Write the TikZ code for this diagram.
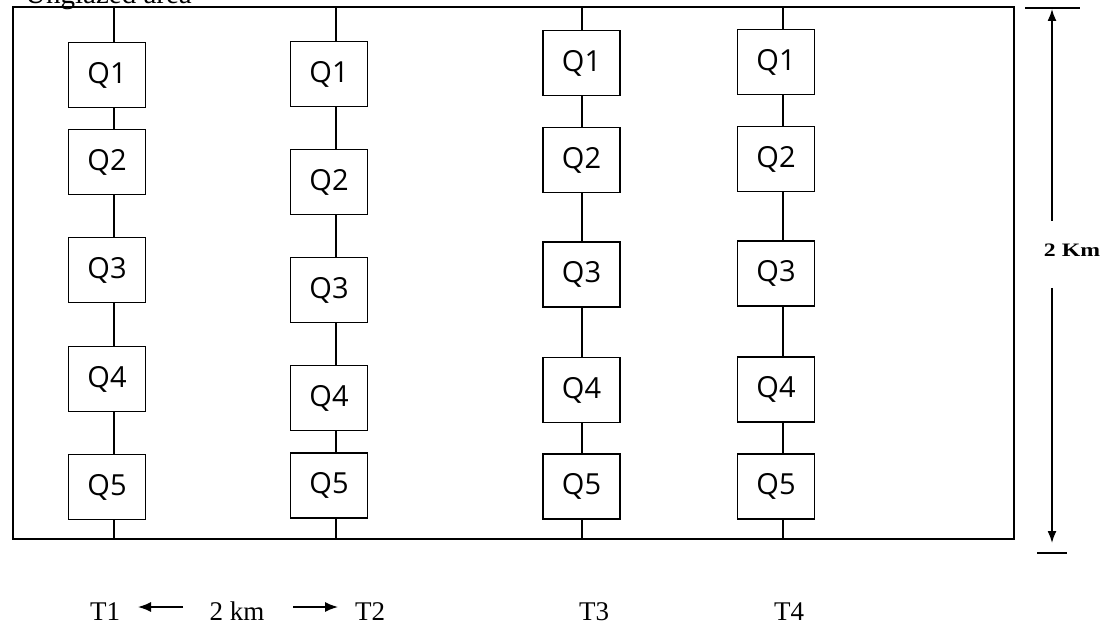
\documentclass[tikz,border=0pt]{standalone}
\usepackage{fontspec}
\usepackage{graphicx}
\setmainfont{Liberation Serif}
\newfontfamily\qfont{Open Sans}
\usetikzlibrary{arrows.meta}
\begin{document}
\begin{tikzpicture}[x=1pt,y=-1pt,
  qbox/.style={draw, line width=1.9pt, minimum width=77pt, minimum height=65pt, inner sep=0pt, font=\qfont\fontsize{29}{31}\selectfont},
  link/.style={line width=1.5pt},
  frame/.style={line width=2pt},
  lbl/.style={font=\fontsize{27}{30}\selectfont, anchor=base, inner sep=0pt},
  dimarrow/.style={line width=1.6pt, -{Latex[length=12pt,width=9pt]}}]
\useasboundingbox (0,0) rectangle (1112,628);
% title (cut at top, as in the reference)
\node[anchor=base west, inner sep=0pt, font=\fontsize{29}{31}\selectfont] (title) at (25,4) {Unglazed area};
% frame
\draw[frame] (13,7) rectangle (1014,539);
% columns
\foreach \c/\bx/\lx/\ya/\yb/\yc/\yd/\ye in {1/107/114/75/162/270/379/487, 2/329/336/74/182/290/398/485.5, 3/581.5/582/63/160/274.5/390/486.5, 4/776/783/62/159/273.5/389.5/486.5}{
  \coordinate (top\c) at (\lx,7);
  \coordinate (bot\c) at (\lx,539);
  \node[qbox] (t\c q1) at (\bx,\ya) {Q1};
  \node[qbox] (t\c q2) at (\bx,\yb) {Q2};
  \node[qbox] (t\c q3) at (\bx,\yc) {Q3};
  \node[qbox] (t\c q4) at (\bx,\yd) {Q4};
  \node[qbox] (t\c q5) at (\bx,\ye) {Q5};
  \draw[link] (top\c) -- (top\c |- t\c q1.north);
  \draw[link] (t\c q1.south -| top\c) -- (t\c q2.north -| top\c);
  \draw[link] (t\c q2.south -| top\c) -- (t\c q3.north -| top\c);
  \draw[link] (t\c q3.south -| top\c) -- (t\c q4.north -| top\c);
  \draw[link] (t\c q4.south -| top\c) -- (t\c q5.north -| top\c);
  \draw[link] (t\c q5.south -| top\c) -- (bot\c);
}
% right dimension
\coordinate (dtl) at (1025,8);
\coordinate (dtr) at (1080,8);
\coordinate (dbl) at (1037,553);
\coordinate (dbr) at (1067,553);
\draw[line width=1.6pt] (dtl) -- (dtr);
\draw[line width=1.6pt] (dbl) -- (dbr);
\node[inner sep=0pt, font=\bfseries\fontsize{19}{21}\selectfont] (dim) at (1072,250) {\scalebox{1.25}[1]{2 Km}};
\coordinate (dup) at (1052,221);
\coordinate (duptip) at (1052,9);
\coordinate (ddn) at (1052,288);
\coordinate (ddntip) at (1052,543);
\draw[dimarrow] (dup) -- (duptip);
\draw[dimarrow] (ddn) -- (ddntip);
% bottom labels
\node[lbl] (T1) at (105,620) {T1};
\node[lbl] (km) at (237,620) {2 km};
\node[lbl] (T2) at (370,620) {T2};
\node[lbl] (T3) at (594,620) {T3};
\node[lbl] (T4) at (789,620) {T4};
\coordinate (la) at (183,607);
\coordinate (latip) at (138,607);
\coordinate (ra) at (293,607);
\coordinate (ratip) at (338,607);
\draw[line width=1.5pt, -{Latex[length=13pt,width=10pt]}] (la) -- (latip);
\draw[line width=1.5pt, -{Latex[length=13pt,width=10pt]}] (ra) -- (ratip);
\end{tikzpicture}
\end{document}
